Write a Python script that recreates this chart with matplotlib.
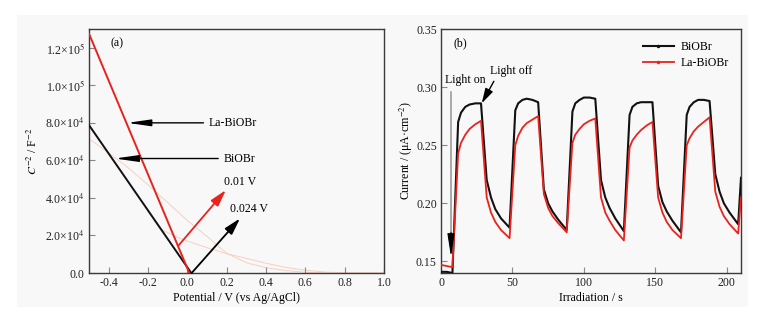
import matplotlib
matplotlib.use("Agg")
import matplotlib.pyplot as plt
from matplotlib.lines import Line2D
from matplotlib.patches import Rectangle

plt.rcParams['font.family'] = ['Liberation Serif', 'DejaVu Serif']
plt.rcParams['mathtext.fontset'] = 'stix'
plt.rcParams['font.size'] = 8.6

# ---------- Panel (a) data ----------
la_fit_x = [-0.5, 0.01]
la_fit_y = [127500, 0]
bi_fit_x = [-0.5, 0.02]
bi_fit_y = [78800, 0]
raw_a_x = [-0.5, -0.4, -0.3, -0.2, -0.1, 0.0, 0.1, 0.2, 0.3, 0.4, 0.5, 0.6, 0.7, 0.8, 1.0]
raw_a_y = [71500, 64000, 56000, 47000, 37500, 28000, 19500, 10500, 5500, 2800, 1300, 400, 50, 0, 0]
raw_b_x = [-0.2, -0.14, -0.04, 0.1, 0.2, 0.3, 0.4, 0.5, 0.6, 0.7, 0.8, 1.0]
raw_b_y = [33000, 23500, 18500, 13500, 10300, 7800, 5200, 3000, 1500, 500, 100, 0]
a_yticks = [0, 20000, 40000, 60000, 80000, 100000, 120000]
a_yticklabels = ['0.0', '2.0×10$^4$', '4.0×10$^4$', '6.0×10$^4$', '8.0×10$^4$',
                 '1.0×10$^5$', '1.2×10$^5$']
a_xticks = [-0.4, -0.2, 0.0, 0.2, 0.4, 0.6, 0.8, 1.0]

# ---------- Panel (b) data ----------
time_s = [0, 4, 8,
          12, 14, 17, 20, 24, 28, 32, 35, 38, 42, 48,
          52, 54, 57, 60, 64, 68, 72, 75, 78, 82, 88,
          92, 94, 97, 100, 104, 108, 112, 115, 118, 122, 128,
          132, 134, 137, 140, 144, 148, 152, 155, 158, 162, 168,
          172, 174, 177, 180, 184, 188, 192, 195, 198, 202, 208, 210]
biobr = [0.141, 0.141, 0.140,
         0.270, 0.278, 0.283, 0.285, 0.286, 0.286, 0.220, 0.205, 0.195, 0.187, 0.179,
         0.280, 0.286, 0.289, 0.290, 0.289, 0.287, 0.212, 0.200, 0.193, 0.186, 0.177,
         0.279, 0.286, 0.289, 0.291, 0.291, 0.290, 0.220, 0.205, 0.196, 0.187, 0.176,
         0.276, 0.283, 0.286, 0.287, 0.287, 0.287, 0.215, 0.201, 0.193, 0.185, 0.175,
         0.276, 0.283, 0.287, 0.289, 0.289, 0.288, 0.225, 0.210, 0.200, 0.192, 0.182, 0.222]
la_biobr = [0.147, 0.146, 0.145,
            0.243, 0.252, 0.259, 0.264, 0.268, 0.271, 0.205, 0.192, 0.184, 0.177, 0.170,
            0.250, 0.258, 0.265, 0.269, 0.272, 0.275, 0.208, 0.196, 0.189, 0.183, 0.175,
            0.252, 0.259, 0.264, 0.268, 0.271, 0.273, 0.205, 0.192, 0.185, 0.177, 0.168,
            0.248, 0.254, 0.259, 0.263, 0.267, 0.270, 0.205, 0.192, 0.184, 0.177, 0.170,
            0.250, 0.256, 0.262, 0.266, 0.270, 0.274, 0.210, 0.197, 0.189, 0.182, 0.174, 0.205]
b_xticks = [0, 50, 100, 150, 200]
b_yticks = [0.15, 0.20, 0.25, 0.30, 0.35]

RED = '#e8231e'
SPINE = '#3a3a3a'
BG = '#f8f8f8'

fig = plt.figure(figsize=(7.75, 3.13), dpi=100)
fig.patches.append(Rectangle((17 / 775, 1 - 307 / 313), (748 - 17) / 775, (307 - 15) / 313,
                             transform=fig.transFigure, facecolor=BG, edgecolor='none', zorder=-10))

ax1 = fig.add_axes([89 / 775, 1 - 273 / 313, (384 - 89) / 775, (273 - 29) / 313])
ax2 = fig.add_axes([441 / 775, 1 - 273 / 313, (741 - 441) / 775, (273 - 29) / 313])

for ax in (ax1, ax2):
    ax.set_facecolor(BG)
    for s in ax.spines.values():
        s.set_color(SPINE)
        s.set_linewidth(1.0)
    ax.tick_params(direction='in', length=4, width=0.8, color='#888888', labelsize=8.6,
                   labelcolor='#222222', pad=3)

# ---- Panel (a) ----
ax1.plot(raw_a_x, raw_a_y, color='#f6d0c2', lw=0.7, zorder=1)
ax1.plot(raw_b_x, raw_b_y, color='#f6d0c2', lw=0.7, zorder=1)
ax1.plot(bi_fit_x, bi_fit_y, color='#111111', lw=1.4, zorder=3)
ax1.plot(la_fit_x, la_fit_y, color=RED, lw=1.4, zorder=3)
ax1.set_xlim(-0.5, 1.0)
ax1.set_ylim(0, 130000)
ax1.set_xticks(a_xticks)
ax1.set_xticklabels([f'{v:.1f}' for v in a_xticks])
ax1.set_yticks(a_yticks)
ax1.set_yticklabels(a_yticklabels)
ax1.set_xlabel('Potential / V (vs Ag/AgCl)', labelpad=2)
ax1.set_ylabel('$C^{-2}$ / F$^{-2}$', labelpad=4)
ax1.text(-0.39, 122500, '(a)', ha='left', va='center')

head = '-|>,head_length=1.4,head_width=0.2'
ax1.annotate('', xy=(-0.305, 80000), xytext=(0.082, 80000),
             arrowprops=dict(arrowstyle=head, color='black', lw=1.0, mutation_scale=10, shrinkA=0, shrinkB=0))
ax1.text(0.11, 80000, 'La-BiOBr', ha='left', va='center')
ax1.annotate('', xy=(-0.368, 61000), xytext=(0.157, 61000),
             arrowprops=dict(arrowstyle=head, color='black', lw=1.0, mutation_scale=10, shrinkA=0, shrinkB=0))
ax1.text(0.186, 61000, 'BiOBr', ha='left', va='center')

head2 = '-|>,head_length=1.0,head_width=0.28'
ax1.annotate('', xy=(0.196, 44200), xytext=(-0.046, 14500),
             arrowprops=dict(arrowstyle=head2, color=RED, lw=1.3, mutation_scale=10, shrinkA=0, shrinkB=0))
ax1.text(0.188, 48500, '0.01 V', ha='left', va='center')
ax1.annotate('', xy=(0.268, 29100), xytext=(0.022, 0),
             arrowprops=dict(arrowstyle=head2, color='black', lw=1.3, mutation_scale=10, shrinkA=0, shrinkB=0))
ax1.text(0.217, 34000, '0.024 V', ha='left', va='center')

# ---- Panel (b) ----
ax2.plot(time_s, biobr, color='#111111', lw=1.5, zorder=3)
ax2.plot(time_s, la_biobr, color=RED, lw=1.3, zorder=3)
ax2.set_xlim(0, 210)
ax2.set_ylim(0.14, 0.35)
ax2.set_xticks(b_xticks)
ax2.set_yticks(b_yticks)
ax2.set_yticklabels([f'{v:.2f}' for v in b_yticks])
ax2.set_xlabel('Irradiation / s', labelpad=2)
ax2.set_ylabel('Current / (μA·cm$^{-2}$)', labelpad=1)
ax2.text(9, 0.338, '(b)', ha='left', va='center')

handles = [Line2D([], [], color='#111111', lw=1.5, marker='.', markersize=3),
           Line2D([], [], color=RED, lw=1.3, marker='.', markersize=3)]
ax2.legend(handles, ['BiOBr', 'La-BiOBr'], loc='upper right', frameon=False,
           fontsize=8.6, handlelength=2.6, handletextpad=0.6, borderaxespad=0.6,
           labelspacing=0.35)

ax2.text(3, 0.306, 'Light on', ha='left', va='center')
ax2.annotate('', xy=(7, 0.172), xytext=(7, 0.296),
             arrowprops=dict(arrowstyle='-', color='#888888', lw=1.0, shrinkA=0, shrinkB=0))
ax2.annotate('', xy=(7, 0.154), xytext=(7, 0.175),
             arrowprops=dict(arrowstyle='-|>,head_length=1.4,head_width=0.22', color='black',
                             lw=0.8, mutation_scale=10, shrinkA=0, shrinkB=0))
ax2.text(34, 0.314, 'Light off', ha='left', va='center')
ax2.annotate('', xy=(28.5, 0.286), xytext=(37, 0.305),
             arrowprops=dict(arrowstyle='-|>,head_length=0.9,head_width=0.25', color='black',
                             lw=1.0, mutation_scale=10, shrinkA=0, shrinkB=0))

fig.savefig('out.png', dpi=100, facecolor='white')
